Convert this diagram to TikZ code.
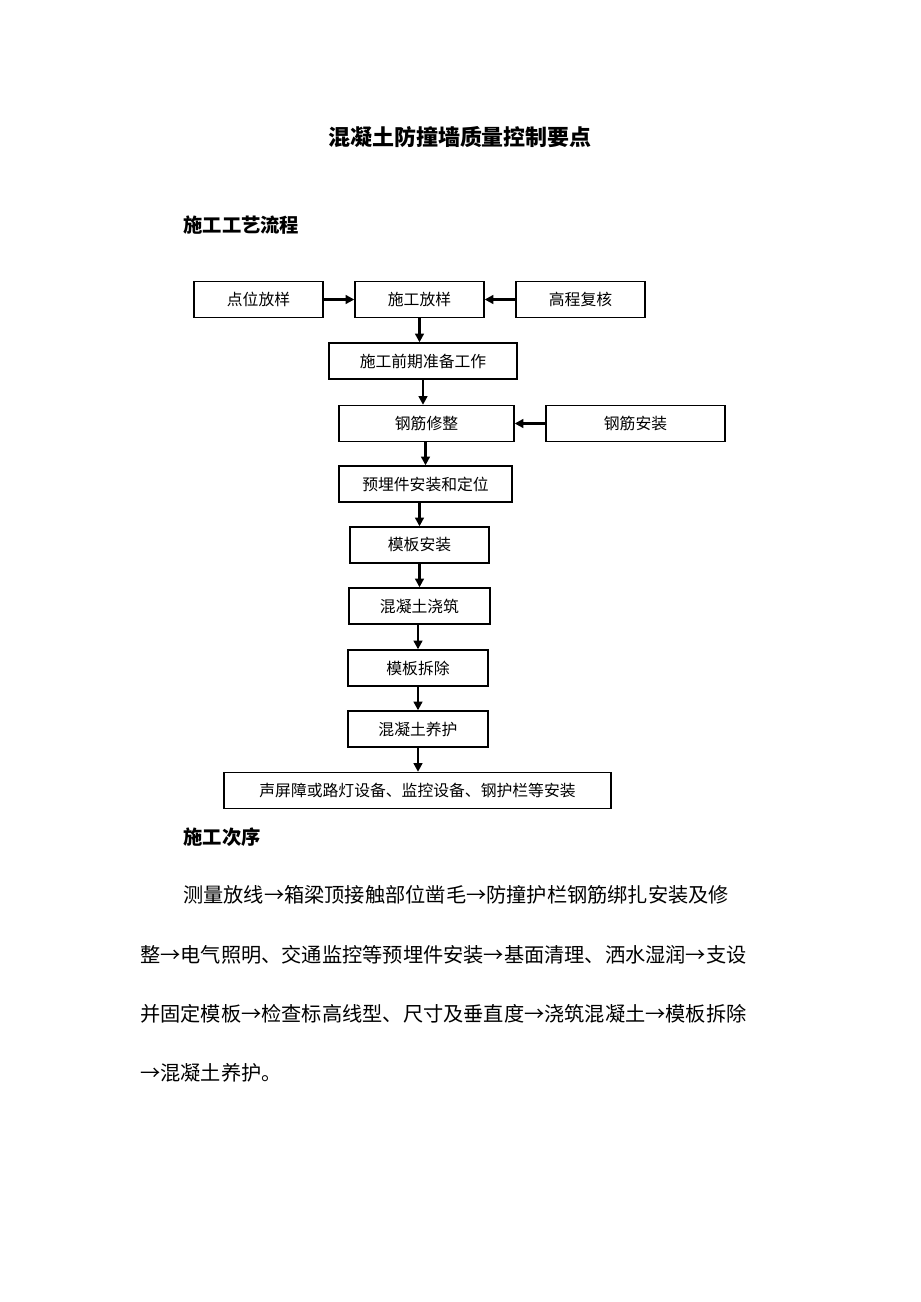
\documentclass[tikz,border=0pt]{standalone}
\usepackage{fontspec}
\setmainfont{Liberation Serif}
\newfontfamily\cjk{Noto Sans CJK SC}
\usetikzlibrary{arrows.meta}
\tikzset{
  box/.style={draw, thick, rectangle, minimum height=0.72cm, inner sep=0pt, font=\cjk\fontsize{9pt}{10pt}\selectfont},
  flow/.style={-{Triangle[length=5pt,width=5pt]}, line width=1.3pt},
  txt/.style={anchor=west, inner sep=0pt, font=\cjk\fontsize{11.5pt}{12pt}\selectfont}
}
\begin{document}
\begin{tikzpicture}[x=0.02cm,y=-0.02cm]
\useasboundingbox (0,0) rectangle (920,1302);
% Title and headings
\node[font=\cjk\bfseries\fontsize{12.5pt}{14pt}\selectfont] (title) at (460,137) {混凝土防撞墙质量控制要点};
\node[txt, font=\cjk\bfseries\fontsize{11pt}{12pt}\selectfont] (head1) at (183,225) {施工工艺流程};
\node[txt, font=\cjk\bfseries\fontsize{11pt}{12pt}\selectfont] (head2) at (183,837) {施工次序};

% Flow chart boxes
\node[box, minimum width=2.58cm] (dwfy) at (258.5,299.5) {点位放样};
\node[box, minimum width=2.58cm] (sgfy) at (419.5,299.5) {施工放样};
\node[box, minimum width=2.58cm] (gcfh) at (580.5,299.5) {高程复核};
\node[box, minimum width=3.76cm] (sgqq) at (423,361) {施工前期准备工作};
\node[box, minimum width=3.5cm] (gjxz) at (426.5,423.5) {钢筋修整};
\node[box, minimum width=3.58cm] (gjaz) at (635.5,423.5) {钢筋安装};
\node[box, minimum width=3.46cm] (ymj) at (425.5,484) {预埋件安装和定位};
\node[box, minimum width=2.78cm] (mbaz) at (419.5,545) {模板安装};
\node[box, minimum width=2.82cm] (hnjz) at (419.5,606) {混凝土浇筑};
\node[box, minimum width=2.8cm] (mbcc) at (418,668) {模板拆除};
\node[box, minimum width=2.8cm] (hnyh) at (418,729) {混凝土养护};
\node[box, minimum width=7.74cm] (spz) at (417.5,790.5) {声屏障或路灯设备、监控设备、钢护栏等安装};

% Connectors
\draw[flow] (dwfy) -- (sgfy);
\draw[flow] (gcfh) -- (sgfy);
\draw[flow] (sgfy.south) -- (sgfy.south |- sgqq.north);
\draw[flow] (sgqq.south) -- (sgqq.south |- gjxz.north);
\draw[flow] (gjaz) -- (gjxz);
\draw[flow] (gjxz.south -| ymj.north) -- (ymj.north);
\draw[flow] (ymj.south -| mbaz.north) -- (mbaz.north);
\draw[flow] (mbaz.south) -- (hnjz.north -| mbaz.south);
\draw[flow] (hnjz.south -| mbcc.north) -- (mbcc.north);
\draw[flow] (mbcc.south) -- (hnyh.north);
\draw[flow] (hnyh.south) -- (hnyh.south |- spz.north);

% Sequence text
\node[txt] (l1) at (183,895) {测量放线→箱梁顶接触部位凿毛→防撞护栏钢筋绑扎安装及修};
\node[txt] (l2) at (140,955) {整→电气照明、交通监控等预埋件安装→基面清理、洒水湿润→支设};
\node[txt] (l3) at (140,1014) {并固定模板→检查标高线型、尺寸及垂直度→浇筑混凝土→模板拆除};
\node[txt] (l4) at (140,1073) {→混凝土养护。};
\end{tikzpicture}
\end{document}
